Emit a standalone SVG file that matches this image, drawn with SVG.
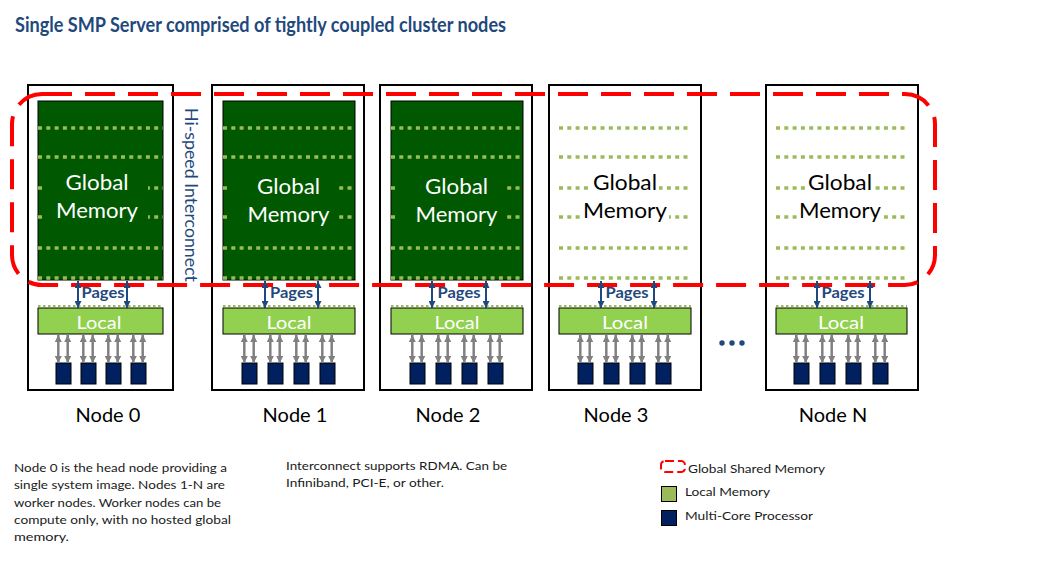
<svg xmlns="http://www.w3.org/2000/svg" width="1056" height="567" viewBox="0 0 1056 567">
<defs>
<style>
text{font-family:Lato,"Open Sans","Liberation Sans",sans-serif}
.box{fill:#fff;stroke:#000;stroke-width:2}
.gm{fill:#005800;stroke:#000;stroke-width:1}
.gmbg{fill:#005800}
.wbg{fill:#fff}
.dot{stroke:#9BBB59;stroke-width:3.5;stroke-dasharray:4 4.3;fill:none}
.dot2{stroke:#9BBB59;stroke-width:2;stroke-dasharray:2.5 2.5;fill:none}
.loc{fill:#92D050;stroke:#000;stroke-width:1}
.cpu{fill:#002060;stroke:#000;stroke-width:1}
.gtxt{font-size:21px;fill:#fff;text-anchor:middle}
.btxt{font-size:21px;fill:#000;text-anchor:middle}
.pg{font-size:15px;font-weight:bold;fill:#1F497D;text-anchor:middle}
.lt{font-size:16.5px;fill:#fff;text-anchor:middle}
.lbl{font-size:20px;fill:#000;text-anchor:middle}
.note{font-size:12px;fill:#1a1a1a}
.parr{stroke:#1F497D;stroke-width:2;marker-start:url(#hb);marker-end:url(#hb)}
.garr{stroke:#808080;stroke-width:2.5;marker-start:url(#hg);marker-end:url(#hg)}
.gsm{fill:none;stroke:#f00;stroke-width:4;stroke-dasharray:30 13}
</style>
<marker id="hb" viewBox="0 0 10 10" refX="10" refY="5" markerWidth="7" markerHeight="7" markerUnits="userSpaceOnUse" orient="auto-start-reverse"><path d="M0,0L10,5L0,10z" fill="#1F497D"/></marker>
<marker id="hg" viewBox="0 0 10 10" refX="10" refY="5" markerWidth="7" markerHeight="7" markerUnits="userSpaceOnUse" orient="auto-start-reverse"><path d="M0,0L10,5L0,10z" fill="#808080"/></marker>
</defs>
<rect width="1056" height="567" fill="#fff"/>
<text x="15" y="31.5" font-size="21" font-weight="bold" fill="#1F497D" textLength="491" lengthAdjust="spacingAndGlyphs">Single SMP Server comprised of tightly coupled cluster nodes</text>

<g id="node0">
<rect class="box" x="28" y="85" width="145" height="305"/>
<rect class="gm" x="38" y="101" width="125" height="179"/>
<path class="dot" d="M38,128H163M38,157H163M38,188H163M38,217H163M38,248H163M38,278H163"/>
<rect class="gmbg" x="43" y="166" width="105" height="64"/>
<text class="gtxt" x="97" y="190" textLength="63" lengthAdjust="spacingAndGlyphs">Global</text>
<text class="gtxt" x="97" y="218" textLength="82" lengthAdjust="spacingAndGlyphs">Memory</text>
<path class="dot2" d="M38,306H163"/>
<rect class="loc" x="38" y="308" width="125" height="26"/>
<text class="pg" x="103" y="297.5" textLength="43" lengthAdjust="spacingAndGlyphs">Pages</text>
<text class="lt" x="99" y="328.5" textLength="45" lengthAdjust="spacingAndGlyphs">Local</text>
<rect class="cpu" x="56" y="363" width="15" height="21"/>
<rect class="cpu" x="81" y="363" width="15" height="21"/>
<rect class="cpu" x="106" y="363" width="15" height="21"/>
<rect class="cpu" x="131" y="363" width="15" height="21"/>
<text class="lbl" x="108" y="422">Node 0</text>
</g>

<g id="node1">
<rect class="box" x="212" y="85" width="152" height="305"/>
<rect class="gm" x="223" y="101" width="132" height="179"/>
<path class="dot" d="M223,128H355M223,157H355M223,188H355M223,217H355M223,248H355M223,278H355"/>
<rect class="gmbg" x="229" y="168" width="110" height="64"/>
<text class="gtxt" x="288.5" y="193.5" textLength="63" lengthAdjust="spacingAndGlyphs">Global</text>
<text class="gtxt" x="288.5" y="221.5" textLength="82" lengthAdjust="spacingAndGlyphs">Memory</text>
<path class="dot2" d="M223,306H355"/>
<rect class="loc" x="223" y="308" width="132" height="26"/>
<text class="pg" x="291.5" y="297.5" textLength="43" lengthAdjust="spacingAndGlyphs">Pages</text>
<text class="lt" x="289" y="328.5" textLength="45" lengthAdjust="spacingAndGlyphs">Local</text>
<rect class="cpu" x="242" y="363" width="15" height="21"/>
<rect class="cpu" x="268" y="363" width="15" height="21"/>
<rect class="cpu" x="294" y="363" width="15" height="21"/>
<rect class="cpu" x="320" y="363" width="15" height="21"/>
<text class="lbl" x="295" y="422">Node 1</text>
</g>

<g id="node2">
<rect class="box" x="380" y="85" width="152" height="305"/>
<rect class="gm" x="391" y="101" width="132" height="179"/>
<path class="dot" d="M391,128H523M391,157H523M391,188H523M391,217H523M391,248H523M391,278H523"/>
<rect class="gmbg" x="397" y="168" width="110" height="64"/>
<text class="gtxt" x="456.5" y="193.5" textLength="63" lengthAdjust="spacingAndGlyphs">Global</text>
<text class="gtxt" x="456.5" y="221.5" textLength="82" lengthAdjust="spacingAndGlyphs">Memory</text>
<path class="dot2" d="M391,306H523"/>
<rect class="loc" x="391" y="308" width="132" height="26"/>
<text class="pg" x="459" y="297.5" textLength="43" lengthAdjust="spacingAndGlyphs">Pages</text>
<text class="lt" x="457" y="328.5" textLength="45" lengthAdjust="spacingAndGlyphs">Local</text>
<rect class="cpu" x="410" y="363" width="15" height="21"/>
<rect class="cpu" x="436" y="363" width="15" height="21"/>
<rect class="cpu" x="462" y="363" width="15" height="21"/>
<rect class="cpu" x="488" y="363" width="15" height="21"/>
<text class="lbl" x="448" y="422">Node 2</text>
</g>

<g id="node3">
<rect class="box" x="549" y="85" width="152" height="305"/>
<path class="dot" d="M559,128H691M559,157H691M559,188H691M559,217H691M559,248H691M559,278H691"/>
<rect class="wbg" x="591" y="177" width="68" height="17"/>
<rect class="wbg" x="581" y="206" width="88" height="17"/>
<text class="btxt" x="625" y="190" textLength="64" lengthAdjust="spacingAndGlyphs">Global</text>
<text class="btxt" x="625" y="218" textLength="84" lengthAdjust="spacingAndGlyphs">Memory</text>
<path class="dot2" d="M559,306H691"/>
<rect class="loc" x="559" y="308" width="132" height="26"/>
<text class="pg" x="627" y="297.5" textLength="43" lengthAdjust="spacingAndGlyphs">Pages</text>
<text class="lt" x="625" y="328.5" textLength="46" lengthAdjust="spacingAndGlyphs">Local</text>
<rect class="cpu" x="578" y="363" width="15" height="21"/>
<rect class="cpu" x="604" y="363" width="15" height="21"/>
<rect class="cpu" x="630" y="363" width="15" height="21"/>
<rect class="cpu" x="656" y="363" width="15" height="21"/>
<text class="lbl" x="616" y="422">Node 3</text>
</g>

<g id="nodeN">
<rect class="box" x="766" y="85" width="152" height="305"/>
<path class="dot" d="M776,128H907M776,157H907M776,188H907M776,217H907M776,248H907M776,278H907"/>
<rect class="wbg" x="806" y="177" width="68" height="17"/>
<rect class="wbg" x="797" y="206" width="87" height="17"/>
<text class="btxt" x="840" y="190" textLength="64" lengthAdjust="spacingAndGlyphs">Global</text>
<text class="btxt" x="840" y="218" textLength="82" lengthAdjust="spacingAndGlyphs">Memory</text>
<path class="dot2" d="M776,306H907"/>
<rect class="loc" x="776" y="308" width="131" height="26"/>
<text class="pg" x="843" y="297.5" textLength="43" lengthAdjust="spacingAndGlyphs">Pages</text>
<text class="lt" x="841" y="328.5" textLength="46" lengthAdjust="spacingAndGlyphs">Local</text>
<rect class="cpu" x="794" y="363" width="15" height="21"/>
<rect class="cpu" x="820" y="363" width="15" height="21"/>
<rect class="cpu" x="846" y="363" width="15" height="21"/>
<rect class="cpu" x="873" y="363" width="15" height="21"/>
<text class="lbl" x="833" y="422">Node N</text>
</g>

<g id="global-shared-memory">
<rect class="gsm" x="12" y="94" width="923" height="191" rx="30" ry="30"/>
</g>

<g id="interconnect">
<text transform="translate(185,108) rotate(90)" font-size="18" fill="#1F497D" textLength="174" lengthAdjust="spacingAndGlyphs">Hi-speed Interconnect</text>
</g>

<g id="connectors">
<line class="parr" x1="78" y1="281" x2="78" y2="308"/>
<line class="parr" x1="127" y1="281" x2="127" y2="308"/>
<line class="parr" x1="265" y1="281" x2="265" y2="308"/>
<line class="parr" x1="318" y1="281" x2="318" y2="308"/>
<line class="parr" x1="432" y1="281" x2="432" y2="308"/>
<line class="parr" x1="486" y1="281" x2="486" y2="308"/>
<line class="parr" x1="601" y1="281" x2="601" y2="308"/>
<line class="parr" x1="654" y1="281" x2="654" y2="308"/>
<line class="parr" x1="817" y1="281" x2="817" y2="308"/>
<line class="parr" x1="870" y1="281" x2="870" y2="308"/>
<path class="garr" d="M58.3,335V363"/><path class="garr" d="M67.7,335V363"/>
<path class="garr" d="M83.3,335V363"/><path class="garr" d="M92.7,335V363"/>
<path class="garr" d="M108.3,335V363"/><path class="garr" d="M117.7,335V363"/>
<path class="garr" d="M133.3,335V363"/><path class="garr" d="M142.7,335V363"/>
<path class="garr" d="M244.3,335V363"/><path class="garr" d="M253.7,335V363"/>
<path class="garr" d="M270.3,335V363"/><path class="garr" d="M279.7,335V363"/>
<path class="garr" d="M296.3,335V363"/><path class="garr" d="M305.7,335V363"/>
<path class="garr" d="M322.3,335V363"/><path class="garr" d="M331.7,335V363"/>
<path class="garr" d="M412.3,335V363"/><path class="garr" d="M421.7,335V363"/>
<path class="garr" d="M438.3,335V363"/><path class="garr" d="M447.7,335V363"/>
<path class="garr" d="M464.3,335V363"/><path class="garr" d="M473.7,335V363"/>
<path class="garr" d="M490.3,335V363"/><path class="garr" d="M499.7,335V363"/>
<path class="garr" d="M580.3,335V363"/><path class="garr" d="M589.7,335V363"/>
<path class="garr" d="M606.3,335V363"/><path class="garr" d="M615.7,335V363"/>
<path class="garr" d="M632.3,335V363"/><path class="garr" d="M641.7,335V363"/>
<path class="garr" d="M658.3,335V363"/><path class="garr" d="M667.7,335V363"/>
<path class="garr" d="M796.3,335V363"/><path class="garr" d="M805.7,335V363"/>
<path class="garr" d="M822.3,335V363"/><path class="garr" d="M831.7,335V363"/>
<path class="garr" d="M848.3,335V363"/><path class="garr" d="M857.7,335V363"/>
<path class="garr" d="M875.3,335V363"/><path class="garr" d="M884.7,335V363"/>
</g>

<g id="ellipsis" fill="#1F497D">
<circle cx="722" cy="343" r="2.7"/>
<circle cx="732" cy="343" r="2.7"/>
<circle cx="742" cy="343" r="2.7"/>
</g>

<g id="notes">
<text class="note" x="14" y="472" textLength="213" lengthAdjust="spacingAndGlyphs">Node 0 is the head node providing a</text>
<text class="note" x="14" y="489.3" textLength="211" lengthAdjust="spacingAndGlyphs">single system image. Nodes 1-N are</text>
<text class="note" x="14" y="506.6" textLength="207" lengthAdjust="spacingAndGlyphs">worker nodes. Worker nodes can be</text>
<text class="note" x="14" y="523.9" textLength="217" lengthAdjust="spacingAndGlyphs">compute only, with no hosted global</text>
<text class="note" x="14" y="541.2" textLength="55" lengthAdjust="spacingAndGlyphs">memory.</text>
<text class="note" x="286" y="470" textLength="221" lengthAdjust="spacingAndGlyphs">Interconnect supports RDMA. Can be</text>
<text class="note" x="286" y="486.7" textLength="158" lengthAdjust="spacingAndGlyphs">Infiniband, PCI-E, or other.</text>
</g>

<g id="legend">
<rect x="661" y="461" width="24" height="11" rx="4" ry="4" fill="none" stroke="#f00" stroke-width="2" stroke-dasharray="9 4"/>
<text class="note" x="688" y="472.5" textLength="137" lengthAdjust="spacingAndGlyphs">Global Shared Memory</text>
<rect x="661.5" y="486.5" width="15" height="15" fill="#9BBB59" stroke="#000" stroke-width="1"/>
<text class="note" x="685" y="496" textLength="85" lengthAdjust="spacingAndGlyphs">Local Memory</text>
<rect x="661.5" y="510.5" width="15" height="15" fill="#002060" stroke="#000" stroke-width="1"/>
<text class="note" x="685" y="520" textLength="128" lengthAdjust="spacingAndGlyphs">Multi-Core Processor</text>
</g>
</svg>
